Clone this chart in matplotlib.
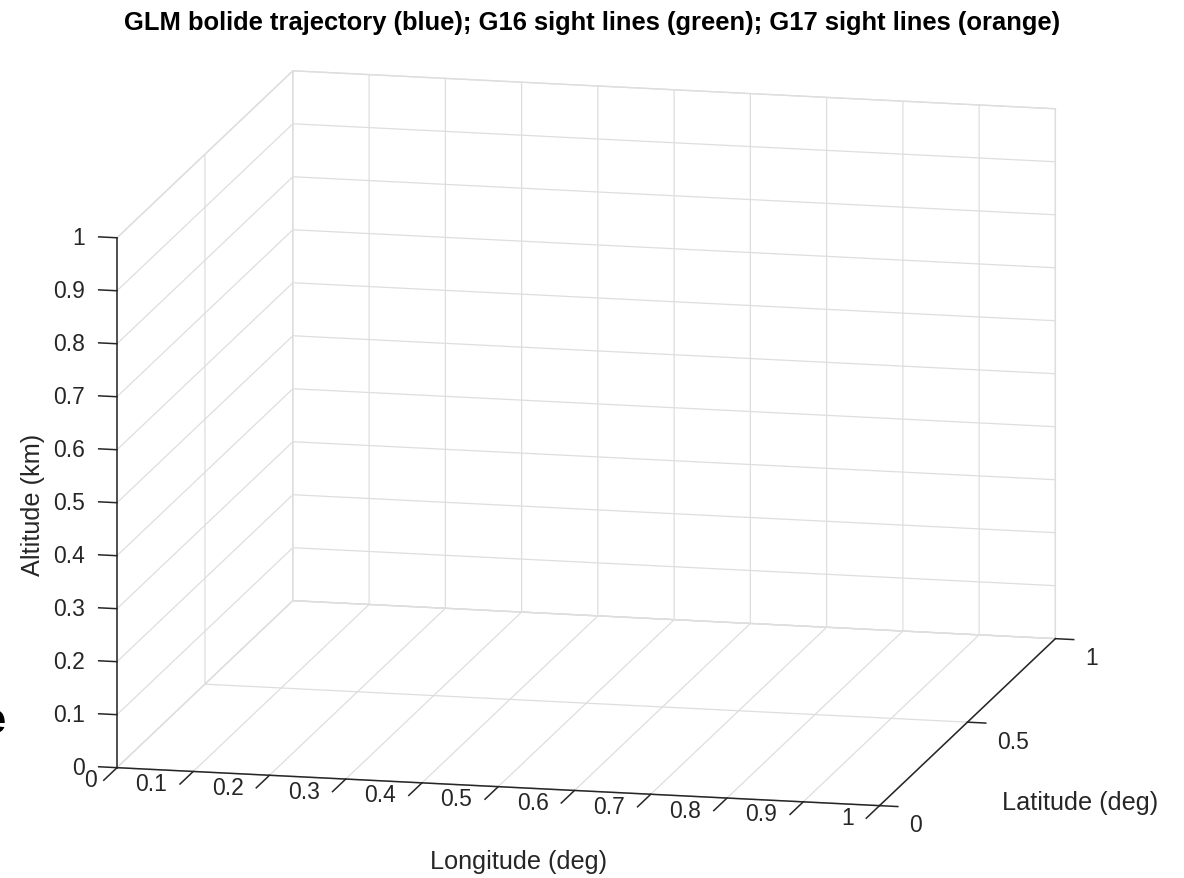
import matplotlib
matplotlib.use('Agg')
import matplotlib.pyplot as plt
import numpy as np
from matplotlib.ticker import NullFormatter
from matplotlib.transforms import offset_copy
from mpl_toolkits.mplot3d import proj3d

# chart content
title = 'GLM bolide trajectory (blue); G16 sight lines (green); G17 sight lines (orange)'
lon_ticks = [0, 0.1, 0.2, 0.3, 0.4, 0.5, 0.6, 0.7, 0.8, 0.9, 1]
lon_labels = ['0', '0.1', '0.2', '0.3', '0.4', '0.5', '0.6', '0.7', '0.8', '0.9', '1']
lat_ticks = [0, 0.5, 1]
lat_labels = ['0', '0.5', '1']
alt_ticks = [0, 0.1, 0.2, 0.3, 0.4, 0.5, 0.6, 0.7, 0.8, 0.9, 1]
alt_labels = ['0', '0.1', '0.2', '0.3', '0.4', '0.5', '0.6', '0.7', '0.8', '0.9', '1']

W, H = 1184, 879
axcol = '#262626'
gridcol = '#dedede'
tick_fs = 16.5
label_fs = 18.2
plt.rcParams['font.family'] = ['Liberation Sans', 'DejaVu Sans']

fig = plt.figure(figsize=(W / 100, H / 100), dpi=100)
ax = fig.add_axes([0.1, 0.1, 0.8 * H / W, 0.8], projection='3d')
ax.set_proj_type('ortho')
ax.view_init(elev=12.56, azim=-77.1)
ax.set_box_aspect((1, 1.007, 0.694))
ax.set_xlim(0, 1)
ax.set_ylim(0, 1)
ax.set_zlim(0, 1)

ax.set_xticks(lon_ticks)
ax.set_yticks(lat_ticks)
ax.set_zticks(alt_ticks)
ax.zaxis.set_ticks_position('lower')
# matlab-like: altitude ticks point along -x (horizontal on screen)
ax.zaxis._get_tickdir = lambda position: 0
ax.tick_params(colors=axcol)

for axis in (ax.xaxis, ax.yaxis, ax.zaxis):
    axis.set_major_formatter(NullFormatter())
    axis.set_tick_params(label1On=False)
    axis.label.set_visible(False)
    axis.offsetText.set_visible(False)
    axis.set_pane_color((1, 1, 1, 1))
    axis.pane.set_edgecolor(gridcol)
    axis.line.set_color(axcol)
    axis.line.set_linewidth(1.1)
    axis._axinfo['grid'].update(color=gridcol, linewidth=0.9, linestyle='-')
    axis._axinfo['tick']['outward_factor'] = 0.0
    axis._axinfo['tick']['inward_factor'] = 0.0
    axis._axinfo['tick']['linewidth'] = {True: 1.1, False: 0.8}
ax.xaxis._axinfo['tick']['inward_factor'] = 0.94
ax.yaxis._axinfo['tick']['inward_factor'] = 0.30
ax.zaxis._axinfo['tick']['outward_factor'] = 0.30

# fit the projected box onto the figure: box corners -> pixel spots (from top)
corners = [(0, 0, 0), (1, 0, 0), (0, 1, 0), (1, 1, 0), (0, 1, 1), (0, 0, 1), (1, 1, 1)]
spots = [(117, 769), (880, 807), (293, 602), (1055, 639), (293, 72), (117, 239), (1055, 109)]


def project(x, y, z):
    xs, ys, _ = proj3d.proj_transform(np.array([x]), np.array([y]), np.array([z]), ax.get_proj())
    return xs[0], ys[0]


fig.canvas.draw()
bb = ax.get_position()
ll = np.array([bb.x0 * W, bb.y0 * H])
side = bb.width * W
rows, rhs = [], []
for c, s in zip(corners, spots):
    p = ax.transData.transform(project(*c))
    f = (p - ll) / side
    rows.append([1, 0, f[0]]); rhs.append(s[0])
    rows.append([0, 1, f[1]]); rhs.append(H - s[1])
sol = np.linalg.lstsq(np.array(rows), np.array(rhs), rcond=None)[0]
ax.set_position([sol[0] / W, sol[1] / H, sol[2] / W, sol[2] / H])


# tick labels at the projected tick spots, with a pixel offset
def tick_text(x, y, z, s, dx, dy, ha, va):
    px, py = project(x, y, z)
    ax.text2D(px, py, s, ha=ha, va=va, fontsize=tick_fs, color=axcol,
              transform=offset_copy(ax.transData, fig=fig, x=dx, y=dy, units='dots'))


for i, (v, s) in enumerate(zip(lon_ticks, lon_labels)):
    # first label nudged right so it clears the altitude "0"
    tick_text(v, 0, 0, s, -26 + (6 if i == 0 else 0), -12, 'right', 'center')
for v, s in zip(lat_ticks, lat_labels):
    tick_text(1, v, 0, s, 30, -19, 'left', 'center')
for v, s in zip(alt_ticks, alt_labels):
    tick_text(0, 0, v, s, -32, 0, 'right', 'center')

fig.text(592 / W, 1 - 23 / H, title, ha='center', va='center',
         fontsize=18.4, fontweight='bold', color='black')
fig.text(33 / W, 1 - 505 / H, 'Altitude (km)', ha='center', va='center',
         rotation=90, fontsize=label_fs, color=axcol)
fig.text(519 / W, 1 - 862 / H, 'Longitude (deg)', ha='center', va='center',
         fontsize=label_fs, color=axcol)
fig.text(1080 / W, 1 - 803 / H, 'Latitude (deg)', ha='center', va='center',
         fontsize=label_fs, color=axcol)
# clipped glyph at the left edge of the original image
fig.text(5 / W, 1 - 722 / H, 'e', ha='right', va='center',
         fontsize=30, fontweight='bold', color='black')

fig.savefig('out.png', dpi=100)
